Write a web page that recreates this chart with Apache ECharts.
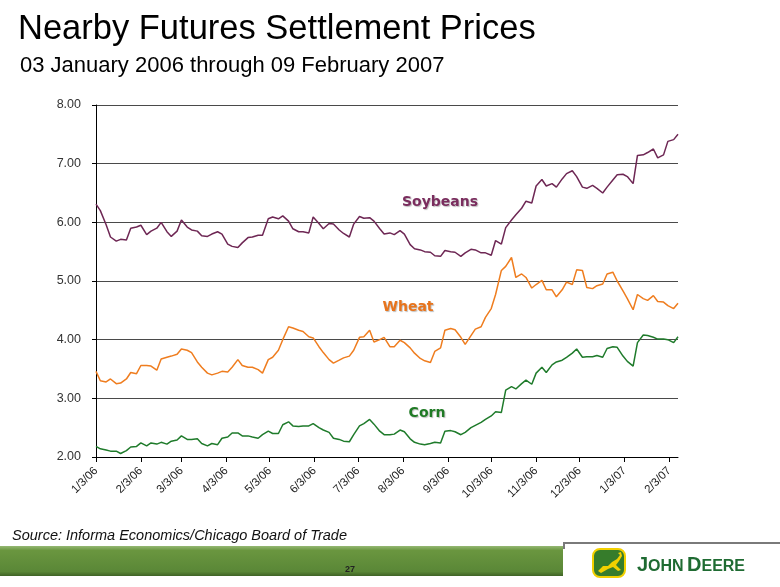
<!DOCTYPE html>
<html>
<head>
<meta charset="utf-8">
<script src="https://cdn.jsdelivr.net/npm/echarts@6/dist/echarts.min.js"></script>
<style>
html,body{margin:0;padding:0;background:#fff;}
#chart{width:780px;height:587px;}
</style>
</head>
<body>
<div id="chart"></div>
<script>
// ---- DATA ----
const startDate = '2006-01-03';
const dates = [
'2006-01-03','2006-01-06','2006-01-10','2006-01-13','2006-01-17','2006-01-20','2006-01-24','2006-01-27','2006-01-31','2006-02-03',
'2006-02-07','2006-02-10','2006-02-14','2006-02-17','2006-02-21','2006-02-24','2006-02-28','2006-03-03','2006-03-07','2006-03-10',
'2006-03-14','2006-03-17','2006-03-21','2006-03-24','2006-03-28','2006-03-31','2006-04-04','2006-04-07','2006-04-11','2006-04-14',
'2006-04-18','2006-04-21','2006-04-25','2006-04-28','2006-05-02','2006-05-05','2006-05-09','2006-05-12','2006-05-16','2006-05-19',
'2006-05-23','2006-05-26','2006-05-30','2006-06-02','2006-06-06','2006-06-09','2006-06-13','2006-06-16','2006-06-20','2006-06-23',
'2006-06-27','2006-06-30','2006-07-04','2006-07-07','2006-07-11','2006-07-14','2006-07-18','2006-07-21','2006-07-25','2006-07-28',
'2006-08-01','2006-08-04','2006-08-08','2006-08-11','2006-08-15','2006-08-18','2006-08-22','2006-08-25','2006-08-29','2006-09-01',
'2006-09-05','2006-09-08','2006-09-12','2006-09-15','2006-09-19','2006-09-22','2006-09-26','2006-09-29','2006-10-03','2006-10-06',
'2006-10-10','2006-10-13','2006-10-17','2006-10-20','2006-10-24','2006-10-27','2006-10-31','2006-11-03','2006-11-07','2006-11-10',
'2006-11-14','2006-11-17','2006-11-21','2006-11-24','2006-11-28','2006-12-01','2006-12-05','2006-12-08','2006-12-12','2006-12-15',
'2006-12-19','2006-12-22','2006-12-26','2006-12-29','2007-01-02','2007-01-05','2007-01-09','2007-01-12','2007-01-16','2007-01-19',
'2007-01-23','2007-01-26','2007-01-30','2007-02-02','2007-02-06','2007-02-09'
];
const soybeans = [
6.31,6.20,5.96,5.75,5.68,5.71,5.70,5.90,5.92,5.95,
5.79,5.85,5.90,6.00,5.84,5.76,5.85,6.04,5.92,5.87,
5.85,5.77,5.76,5.80,5.84,5.80,5.63,5.59,5.57,5.65,
5.74,5.75,5.78,5.78,6.06,6.09,6.06,6.11,6.02,5.89,
5.84,5.84,5.82,6.09,5.98,5.89,5.98,5.97,5.87,5.81,
5.75,5.97,6.10,6.07,6.08,6.02,5.89,5.80,5.82,5.79,
5.86,5.80,5.62,5.55,5.53,5.50,5.49,5.43,5.42,5.52,
5.50,5.49,5.42,5.48,5.54,5.53,5.48,5.48,5.44,5.69,
5.63,5.91,6.04,6.13,6.24,6.36,6.33,6.62,6.73,6.62,
6.66,6.60,6.74,6.83,6.88,6.78,6.60,6.58,6.63,6.58,
6.50,6.60,6.72,6.81,6.82,6.78,6.66,7.14,7.15,7.19,
7.25,7.10,7.15,7.38,7.41,7.50
];
const wheat = [
3.46,3.30,3.28,3.33,3.25,3.26,3.33,3.44,3.42,3.56,
3.56,3.55,3.48,3.67,3.70,3.72,3.75,3.84,3.82,3.78,
3.62,3.53,3.43,3.40,3.43,3.46,3.45,3.53,3.66,3.56,
3.53,3.53,3.49,3.43,3.66,3.70,3.82,4.00,4.22,4.20,
4.16,4.14,4.05,4.03,3.88,3.78,3.66,3.60,3.65,3.69,
3.72,3.82,4.04,4.05,4.16,3.96,4.00,4.04,3.88,3.88,
3.99,3.95,3.86,3.77,3.68,3.64,3.61,3.80,3.86,4.16,
4.19,4.17,4.04,3.92,4.07,4.18,4.22,4.38,4.53,4.77,
5.18,5.25,5.40,5.06,5.12,5.06,4.88,4.94,5.01,4.85,
4.85,4.73,4.85,4.98,4.94,5.19,5.18,4.89,4.87,4.92,
4.95,5.12,5.15,5.00,4.83,4.70,4.51,4.77,4.70,4.67,
4.75,4.65,4.64,4.58,4.53,4.62
];
const corn = [
2.18,2.14,2.12,2.10,2.10,2.06,2.11,2.17,2.18,2.24,
2.19,2.24,2.22,2.25,2.22,2.27,2.29,2.36,2.30,2.30,
2.31,2.23,2.19,2.23,2.21,2.32,2.34,2.41,2.41,2.36,
2.36,2.34,2.32,2.38,2.44,2.40,2.40,2.55,2.60,2.53,
2.52,2.53,2.53,2.57,2.50,2.46,2.42,2.32,2.30,2.27,
2.26,2.38,2.53,2.57,2.64,2.56,2.44,2.38,2.38,2.39,
2.46,2.43,2.31,2.25,2.22,2.21,2.23,2.25,2.24,2.44,
2.45,2.43,2.38,2.42,2.50,2.54,2.59,2.64,2.70,2.77,
2.76,3.14,3.20,3.16,3.25,3.31,3.24,3.43,3.53,3.44,
3.57,3.62,3.65,3.70,3.77,3.84,3.70,3.71,3.71,3.73,
3.70,3.85,3.88,3.87,3.72,3.63,3.55,3.95,4.08,4.07,
4.04,4.01,4.01,4.00,3.95,4.05
];
const tickLabels = ['1/3/06','2/3/06','3/3/06','4/3/06','5/3/06','6/3/06','7/3/06','8/3/06','9/3/06','10/3/06','11/3/06','12/3/06','1/3/07','2/3/07'];
const seriesNames = ['Soybeans','Wheat','Corn'];

// ---- helpers ----
const DAY = 86400000;
const t0 = Date.parse(startDate + 'T00:00:00Z');
function dayOf(iso){ return Math.round((Date.parse(iso + 'T00:00:00Z') - t0) / DAY); }
function dayOfLabel(lbl){
  const p = lbl.split('/').map(Number);
  return Math.round((Date.UTC(2000 + p[2], p[0] - 1, p[1]) - t0) / DAY);
}
const xDays = dates.map(dayOf);
const tickDays = tickLabels.map(dayOfLabel);
const pair = arr => arr.map((v, i) => [xDays[i], v]);

const colors = { soy: '#6e2754', wheat: '#ef7d1f', corn: '#1f7b2b' };
const FONT = '"Liberation Sans", Arial, sans-serif';
const LBLFONT = '"DejaVu Sans", Verdana, sans-serif';
const lblShadow = { textShadowColor: 'rgba(0,0,0,0.25)', textShadowBlur: 1, textShadowOffsetX: 1, textShadowOffsetY: 1 };

const chart = echarts.init(document.getElementById('chart'), null, { renderer: 'canvas' });
chart.setOption({
  animation: false,
  backgroundColor: '#ffffff',
  grid: { left: 96, top: 105, right: 102, bottom: 130, containLabel: false },
  xAxis: {
    type: 'value',
    min: 0,
    max: xDays[xDays.length - 1],
    axisLine: { show: true, lineStyle: { color: '#000', width: 1 } },
    axisTick: { show: true, length: 5, customValues: tickDays, lineStyle: { color: '#000' } },
    axisLabel: {
      customValues: tickDays,
      rotate: 45,
      margin: 12,
      fontFamily: FONT,
      fontSize: 11.5,
      color: '#222',
      formatter: v => tickLabels[tickDays.indexOf(Math.round(v))] || ''
    },
    splitLine: { show: false }
  },
  yAxis: {
    type: 'value',
    min: 2, max: 8, interval: 1,
    axisLine: { show: true, lineStyle: { color: '#000', width: 1 } },
    axisTick: { show: true, length: 4, lineStyle: { color: '#000' } },
    axisLabel: { fontFamily: FONT, fontSize: 12.5, color: '#333', margin: 15, formatter: v => v.toFixed(2) },
    splitLine: { show: true, lineStyle: { color: '#4a4a4a', width: 1 } }
  },
  series: [
    { name: seriesNames[0], type: 'line', data: pair(soybeans), showSymbol: false, lineStyle: { color: colors.soy, width: 1.5 }, itemStyle: { color: colors.soy }, z: 3 },
    { name: seriesNames[1], type: 'line', data: pair(wheat), showSymbol: false, lineStyle: { color: colors.wheat, width: 1.5 }, itemStyle: { color: colors.wheat }, z: 3 },
    { name: seriesNames[2], type: 'line', data: pair(corn), showSymbol: false, lineStyle: { color: colors.corn, width: 1.5 }, itemStyle: { color: colors.corn }, z: 3 }
  ],
  graphic: [
    { type: 'text', left: 18, top: 12, style: { text: 'Nearby Futures Settlement Prices', fontFamily: FONT, fontSize: 34.5, fill: '#000' } },
    { type: 'text', left: 20, top: 55, style: { text: '03 January 2006 through 09 February 2007', fontFamily: FONT, fontSize: 22, fill: '#000' } },
    { type: 'text', x: 440, y: 202, style: Object.assign({ text: seriesNames[0], fontFamily: LBLFONT, fontWeight: 'bold', fontSize: 14, fill: '#7a2d5e', align: 'center', verticalAlign: 'middle' }, lblShadow), z: 10 },
    { type: 'text', x: 408, y: 307, style: Object.assign({ text: seriesNames[1], fontFamily: LBLFONT, fontWeight: 'bold', fontSize: 14, fill: '#e8741c', align: 'center', verticalAlign: 'middle' }, lblShadow), z: 10 },
    { type: 'text', x: 427, y: 413, style: Object.assign({ text: seriesNames[2], fontFamily: LBLFONT, fontWeight: 'bold', fontSize: 14, fill: '#1f7a24', align: 'center', verticalAlign: 'middle' }, lblShadow), z: 10 },
    { type: 'text', x: 12, y: 536, style: { text: 'Source: Informa Economics/Chicago Board of Trade', fontFamily: FONT, fontStyle: 'italic', fontSize: 14.5, fill: '#111', verticalAlign: 'middle' } },
    { type: 'rect', shape: { x: 0, y: 546, width: 563, height: 30 },
      style: { fill: new echarts.graphic.LinearGradient(0, 0, 0, 1, [
        { offset: 0, color: '#95b874' }, { offset: 0.15, color: '#6a963f' }, { offset: 0.85, color: '#5a8737' }, { offset: 1, color: '#3f6326' }
      ]) } },
    { type: 'polyline', shape: { points: [[564, 549], [564, 543], [780, 543]] }, style: { stroke: '#7a7a7a', lineWidth: 2, fill: null } },
    { type: 'text', x: 350, y: 570, style: { text: '27', fontFamily: FONT, fontSize: 9, fontWeight: 'bold', fill: '#222', align: 'center', verticalAlign: 'middle' } },
    { type: 'rect', shape: { x: 593, y: 549, width: 32, height: 28, r: 7 }, style: { fill: '#367c2b', stroke: '#f2d000', lineWidth: 2 } },
    { type: 'polygon', shape: { points: [[598,571],[603,566],[608,566],[612,562],[617,559],[620,555],[618,553],[621,552],[622,556],[619,561],[616,565],[621,570],[618,571],[613,567],[608,569],[601,573]] }, style: { fill: '#f2d000' } },
    { type: 'text', x: 637, y: 565, style: {
        text: '{b|J}{s|OHN} {b|D}{s|EERE}',
        verticalAlign: 'middle',
        rich: {
          b: { fontFamily: FONT, fontWeight: 'bold', fontSize: 20, fill: '#1f6b32', verticalAlign: 'bottom' },
          s: { fontFamily: FONT, fontWeight: 'bold', fontSize: 16, fill: '#1f6b32', verticalAlign: 'bottom' }
        } } }
  ]
});
</script>
</body>
</html>
